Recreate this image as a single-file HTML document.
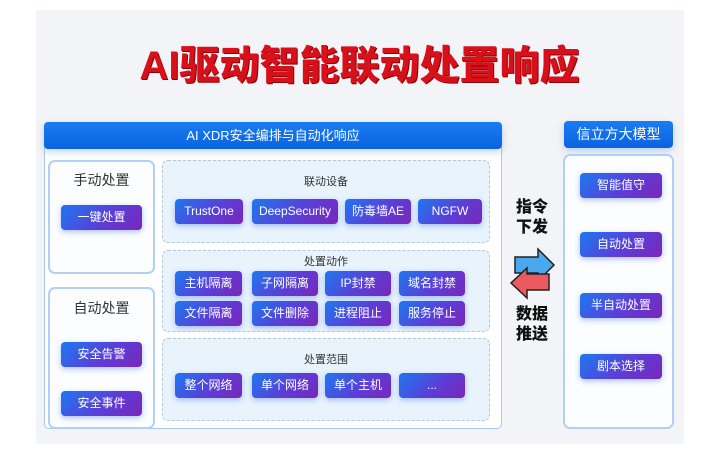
<!DOCTYPE html>
<html><head><meta charset="utf-8"><style>
*{margin:0;padding:0;box-sizing:border-box}
body{width:719px;height:463px;background:#fff;position:relative;overflow:hidden;font-family:"Liberation Sans","Noto Sans CJK SC",sans-serif}
.a{position:absolute}
.panel{left:36px;top:10px;width:648px;height:434px;background:#f3f4f7}
.title{left:0;top:33px;width:719px;text-align:center;font-size:40px;font-weight:900;color:#d8101a;letter-spacing:0px;text-shadow:1px 1px 0 #8a0008}
.main{left:44px;top:122px;width:458px;height:307px;background:#fff;border:1px solid #a9c8f0;border-radius:5px}
.hdr{background:linear-gradient(#1a7cf2,#0a63e0);color:#fff;font-size:13px;text-align:center;border-radius:4px;box-shadow:0 3px 8px rgba(60,120,230,.3)}
.box{background:#fbfdff;border:2px solid #b3d0f3;border-radius:7px}
.dash{border:1px dashed #b8c8dc;border-radius:6px;background:#e8f3fc}
.b{position:absolute;height:25px;border-radius:4px;background:linear-gradient(135deg,#1d78f0 0%,#5a3fd8 55%,#7a26b8 100%);color:#fff;font-size:12px;text-align:center;line-height:25px;box-shadow:0 2px 6px rgba(80,120,240,.45)}
.lab{position:absolute;font-size:11px;color:#333;text-align:center}
.big{position:absolute;font-size:14px;color:#333;text-align:center}
.bk{position:absolute;font-size:16px;font-weight:900;color:#111;line-height:20px}
</style></head><body>
<div class="a panel"></div>
<div class="a title">AI驱动智能联动处置响应</div>
<div class="a main"></div>
<div class="a hdr" style="left:44px;top:122px;width:458px;height:27px;line-height:27px">AI XDR安全编排与自动化响应</div>
<div class="a box" style="left:48px;top:160px;width:107px;height:114px"></div>
<div class="big" style="left:48px;top:170px;width:107px">手动处置</div>
<div class="b" style="left:61px;top:205px;width:81px">一键处置</div>
<div class="a box" style="left:48px;top:287px;width:107px;height:142px"></div>
<div class="big" style="left:48px;top:298px;width:107px">自动处置</div>
<div class="b" style="left:61px;top:342px;width:81px">安全告警</div>
<div class="b" style="left:61px;top:391px;width:81px">安全事件</div>

<div class="a dash" style="left:162px;top:160px;width:328px;height:83px"></div>
<div class="lab" style="left:162px;top:173px;width:328px">联动设备</div>
<div class="b" style="left:175px;top:199px;width:68px">TrustOne</div>
<div class="b" style="left:252px;top:199px;width:86px">DeepSecurity</div>
<div class="b" style="left:345px;top:199px;width:66px">防毒墙AE</div>
<div class="b" style="left:418px;top:199px;width:64px">NGFW</div>

<div class="a dash" style="left:162px;top:250px;width:328px;height:82px"></div>
<div class="lab" style="left:162px;top:253px;width:328px">处置动作</div>
<div class="b" style="left:175px;top:271px;width:67px">主机隔离</div>
<div class="b" style="left:252px;top:271px;width:66px">子网隔离</div>
<div class="b" style="left:325px;top:271px;width:66px">IP封禁</div>
<div class="b" style="left:399px;top:271px;width:66px">域名封禁</div>
<div class="b" style="left:175px;top:301px;width:67px">文件隔离</div>
<div class="b" style="left:252px;top:301px;width:66px">文件删除</div>
<div class="b" style="left:325px;top:301px;width:66px">进程阻止</div>
<div class="b" style="left:399px;top:301px;width:66px">服务停止</div>

<div class="a dash" style="left:162px;top:338px;width:328px;height:83px"></div>
<div class="lab" style="left:162px;top:351px;width:328px">处置范围</div>
<div class="b" style="left:175px;top:373px;width:67px">整个网络</div>
<div class="b" style="left:252px;top:373px;width:66px">单个网络</div>
<div class="b" style="left:325px;top:373px;width:66px">单个主机</div>
<div class="b" style="left:399px;top:373px;width:66px">...</div>

<div class="bk" style="left:516px;top:198px">指令<br>下发</div>
<svg class="a" style="left:505px;top:245px" width="55" height="58">
<path d="M10 12 H33 V4 L49 20 L33 36 V28 H10 Z" fill="#4aa8ee" stroke="#222" stroke-width="1.5"/>
<path d="M44 29 H22 V23 L6 38 L22 53 V45 H44 Z" fill="#ec5a60" stroke="#222" stroke-width="1.5"/>
</svg>
<div class="bk" style="left:516px;top:305px">数据<br>推送</div>

<div class="a hdr" style="left:564px;top:121px;width:109px;height:27px;line-height:27px;font-size:14px">信立方大模型</div>
<div class="a box" style="left:563px;top:154px;width:111px;height:275px"></div>
<div class="b" style="left:580px;top:173px;width:82px">智能值守</div>
<div class="b" style="left:580px;top:232px;width:82px">自动处置</div>
<div class="b" style="left:580px;top:293px;width:82px">半自动处置</div>
<div class="b" style="left:580px;top:354px;width:82px">剧本选择</div>
</body></html>
